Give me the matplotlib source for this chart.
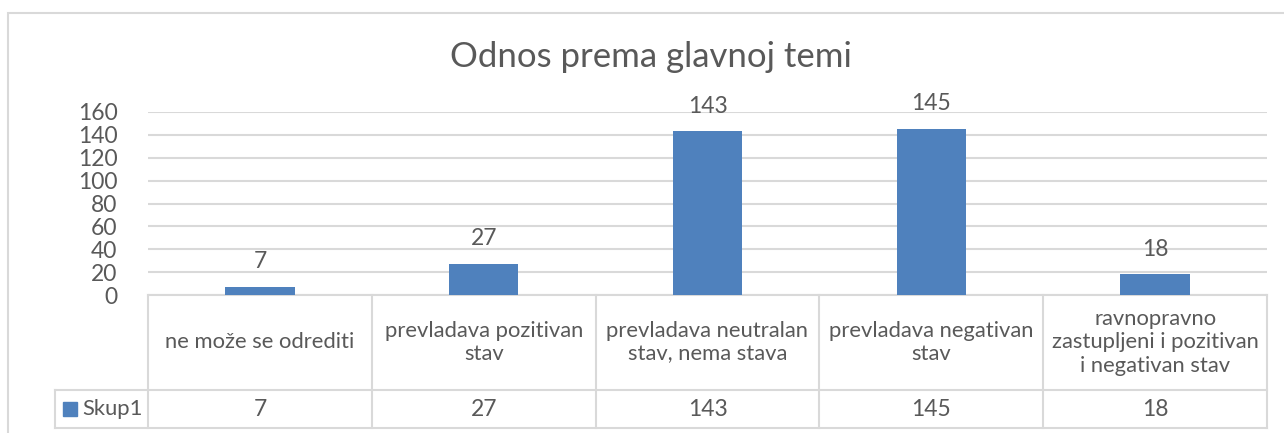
import matplotlib.pyplot as plt
from matplotlib.patches import Rectangle
from matplotlib.transforms import blended_transform_factory

# data
categories = ['ne može se odrediti',
              'prevladava pozitivan\nstav',
              'prevladava neutralan\nstav, nema stava',
              'prevladava negativan\nstav',
              'ravnopravno\nzastupljeni i pozitivan\ni negativan stav']
values = [7, 27, 143, 145, 18]
series_name = 'Skup1'
title = 'Odnos prema glavnoj temi'

blue = '#4F81BD'
txt = '#595959'
grid = '#D9D9D9'

plt.rcParams['font.family'] = ['Lato', 'DejaVu Sans']

W, H = 1284, 433
fig = plt.figure(figsize=(W / 100, H / 100), dpi=100)

# chart area border (runs off the right/bottom edge like the screenshot)
fig.patches.append(Rectangle((8 / W, -0.1), 1.2, 1 - 13 / H + 0.1,
                             transform=fig.transFigure, fill=False,
                             edgecolor=grid, lw=1.5))

ax = fig.add_axes([148 / W, 138 / H, (1267 - 148) / W, 183 / H])
x = range(len(values))
ax.bar(x, values, width=0.31, color=blue, zorder=3)
ax.set_xlim(-0.5, len(values) - 0.5)
ax.set_ylim(0, 160)
ax.set_yticks(range(0, 161, 20))
ax.yaxis.grid(True, color=grid, lw=1.5)
ax.set_axisbelow(True)
ax.set_xticks([])
for s in ax.spines.values():
    s.set_visible(False)
ax.tick_params(axis='y', length=0, labelsize=16.5, labelcolor=txt, pad=22)

# value labels above bars
for i, v in enumerate(values):
    ax.text(i, v + 13, str(v), ha='center', va='bottom', fontsize=16.5,
            color=txt)

fig.text(0.507, 1 - 57 / H, title, ha='center', va='center',
         fontsize=25, color=txt)

# data table below the plot
tr = blended_transform_factory(ax.transData, ax.transAxes)
n = len(values)
y0, y1, y2 = 0.0, -0.519, -0.727
xl = -0.9155
kw = dict(transform=tr, color=grid, lw=1.5, clip_on=False)
ax.plot([-0.5, n - 0.5], [y0, y0], **kw)
ax.plot([xl, n - 0.5], [y1, y1], **kw)
ax.plot([xl, n - 0.5], [y2, y2], **kw)
ax.plot([xl, xl], [y1, y2], **kw)
for i in range(n + 1):
    ax.plot([i - 0.5, i - 0.5], [y0, y2], **kw)

for i, (c, v) in enumerate(zip(categories, values)):
    ax.text(i, (y0 + y1) / 2, c, transform=tr, ha='center', va='center',
            fontsize=15.8, color=txt, linespacing=1.2, clip_on=False)
    ax.text(i, (y1 + y2) / 2, str(v), transform=tr, ha='center',
            va='center', fontsize=16.5, color=txt, clip_on=False)

# legend key in the table's row header
fig.patches.append(Rectangle((63 / W, (H - 416) / H), 14 / W, 14 / H,
                             transform=fig.transFigure, color=blue))
ax.text(xl + 0.121, (y1 + y2) / 2, series_name, transform=tr, ha='left',
        va='center', fontsize=15.8, color=txt)

fig.savefig('out.png', dpi=100)
